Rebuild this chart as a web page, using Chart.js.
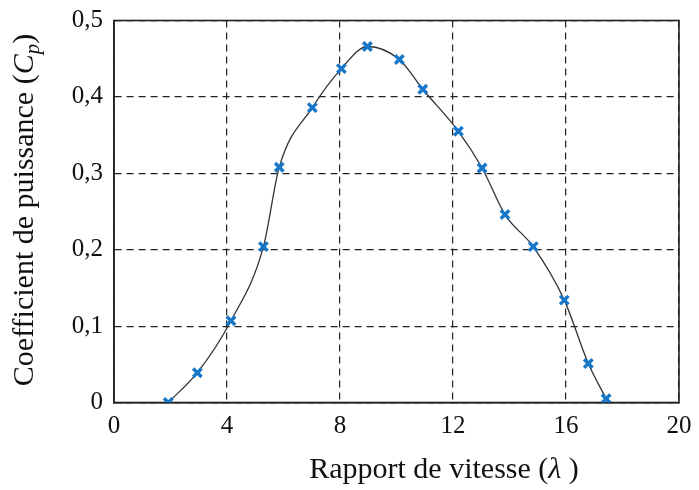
<!DOCTYPE html>
<html>
<head>
<meta charset="utf-8">
<script src="https://cdn.jsdelivr.net/npm/chart.js@4/dist/chart.umd.min.js"></script>
<style>
  html, body { margin: 0; padding: 0; background: #fff; }
  #wrap { width: 699px; height: 490px; position: relative; }
</style>
</head>
<body>
<div id="wrap"><canvas id="c" width="699" height="490"></canvas></div>
<script>
// Tip speed ratio (lambda) and power coefficient (Cp) samples
const lambda = [1.92, 2.95, 4.14, 5.29, 5.85, 7.02, 8.05, 8.97, 10.1, 10.93, 12.19, 13.03, 13.84, 14.84, 15.94, 16.79, 17.42];
const cp     = [0, 0.039, 0.107, 0.204, 0.308, 0.386, 0.437, 0.466, 0.449, 0.41, 0.355, 0.307, 0.246, 0.204, 0.134, 0.051, 0.005];

// Axis ticks and their labels
const xTicks = [0, 4, 8, 12, 16, 20];
const xTickLabels = ['0', '4', '8', '12', '16', '20'];
const yTicks = [0, 0.1, 0.2, 0.3, 0.4, 0.5];
const yTickLabels = ['0', '0,1', '0,2', '0,3', '0,4', '0,5'];

const SERIF = '"Liberation Serif", "Times New Roman", serif';
const TITLE_SIZE = 30;

const points = lambda.map((x, i) => ({ x: x, y: cp[i] }));

// Axis titles with italic symbols and a subscript
const axisTitles = {
  id: 'axisTitles',
  afterDraw(chart) {
    const ctx = chart.ctx;
    const size = TITLE_SIZE;
    const segs = (parts) => parts.map(p => Object.assign({ sub: false, italic: false }, p));
    const fontOf = p => (p.italic ? 'italic ' : '') + (p.sub ? size * 0.7 : size) + 'px ' + SERIF;
    function measure(parts) {
      let w = 0;
      for (const p of parts) { ctx.font = fontOf(p); w += ctx.measureText(p.t).width; }
      return w;
    }
    function draw(parts, cx, baseY) {
      let x = cx - measure(parts) / 2;
      ctx.fillStyle = '#111';
      ctx.textBaseline = 'alphabetic';
      ctx.textAlign = 'left';
      for (const p of parts) {
        ctx.font = fontOf(p);
        ctx.fillText(p.t, x, baseY + (p.sub ? size * 0.2 : 0));
        x += ctx.measureText(p.t).width;
      }
    }
    ctx.save();
    draw(segs([{ t: 'Rapport de vitesse (' }, { t: 'λ', italic: true }, { t: ' )' }]), 444, 478);
    ctx.translate(33, 210);
    ctx.rotate(-Math.PI / 2);
    draw(segs([{ t: 'Coefficient de puissance (' }, { t: 'C', italic: true }, { t: 'p', italic: true, sub: true }, { t: ')' }]), 0, 0);
    ctx.restore();
  }
};

// Let the layout padding alone decide the plot margins
function noOverflow(s) {
  s.paddingTop = 0; s.paddingBottom = 0; s.paddingLeft = 0; s.paddingRight = 0;
}

new Chart(document.getElementById('c'), {
  type: 'scatter',
  data: {
    datasets: [{
      data: points,
      showLine: true,
      borderColor: '#333',
      borderWidth: 1.3,
      cubicInterpolationMode: 'monotone',
      pointStyle: 'crossRot',
      pointRadius: 6,
      pointBorderWidth: 3.4,
      pointBorderColor: '#1677c8',
      pointBackgroundColor: '#1677c8',
      pointHoverRadius: 6
    }]
  },
  options: {
    responsive: false,
    animation: false,
    devicePixelRatio: 1,
    layout: { padding: { left: 0, top: 20.5, right: 20, bottom: 0 } },
    plugins: { legend: { display: false }, tooltip: { enabled: false } },
    scales: {
      x: {
        type: 'linear',
        min: 0, max: 20,
        afterBuildTicks: s => { s.ticks = xTicks.map(v => ({ value: v })); },
        afterFit: s => { s.height = 87.5; noOverflow(s); },
        ticks: {
          callback: (v) => xTickLabels[xTicks.indexOf(v)],
          color: '#111',
          font: { family: SERIF, size: 25 },
          padding: 9,
          maxRotation: 0
        },
        grid: { color: '#222', lineWidth: 1.2, tickLength: 0 },
        border: { display: true, color: '#222', width: 1.6, dash: [7, 5] }
      },
      y: {
        type: 'linear',
        min: 0, max: 0.5,
        afterBuildTicks: s => { s.ticks = yTicks.map(v => ({ value: v })); },
        afterFit: s => { s.width = 114; noOverflow(s); },
        ticks: {
          callback: (v) => yTickLabels[yTicks.findIndex(t => Math.abs(t - v) < 1e-9)],
          color: '#111',
          font: { family: SERIF, size: 25 },
          padding: 11
        },
        grid: { color: '#222', lineWidth: 1.2, tickLength: 0 },
        border: { display: true, color: '#222', width: 1.6, dash: [7, 5] }
      }
    }
  },
  plugins: [axisTitles, {
    id: 'frame',
    beforeDatasetsDraw(chart) {
      const { ctx, chartArea: a } = chart;
      ctx.save();
      ctx.strokeStyle = '#222';
      ctx.lineWidth = 1.6;
      ctx.setLineDash([]);
      ctx.strokeRect(a.left, a.top, a.right - a.left, a.bottom - a.top);
      ctx.restore();
    }
  }]
});
</script>
</body>
</html>
